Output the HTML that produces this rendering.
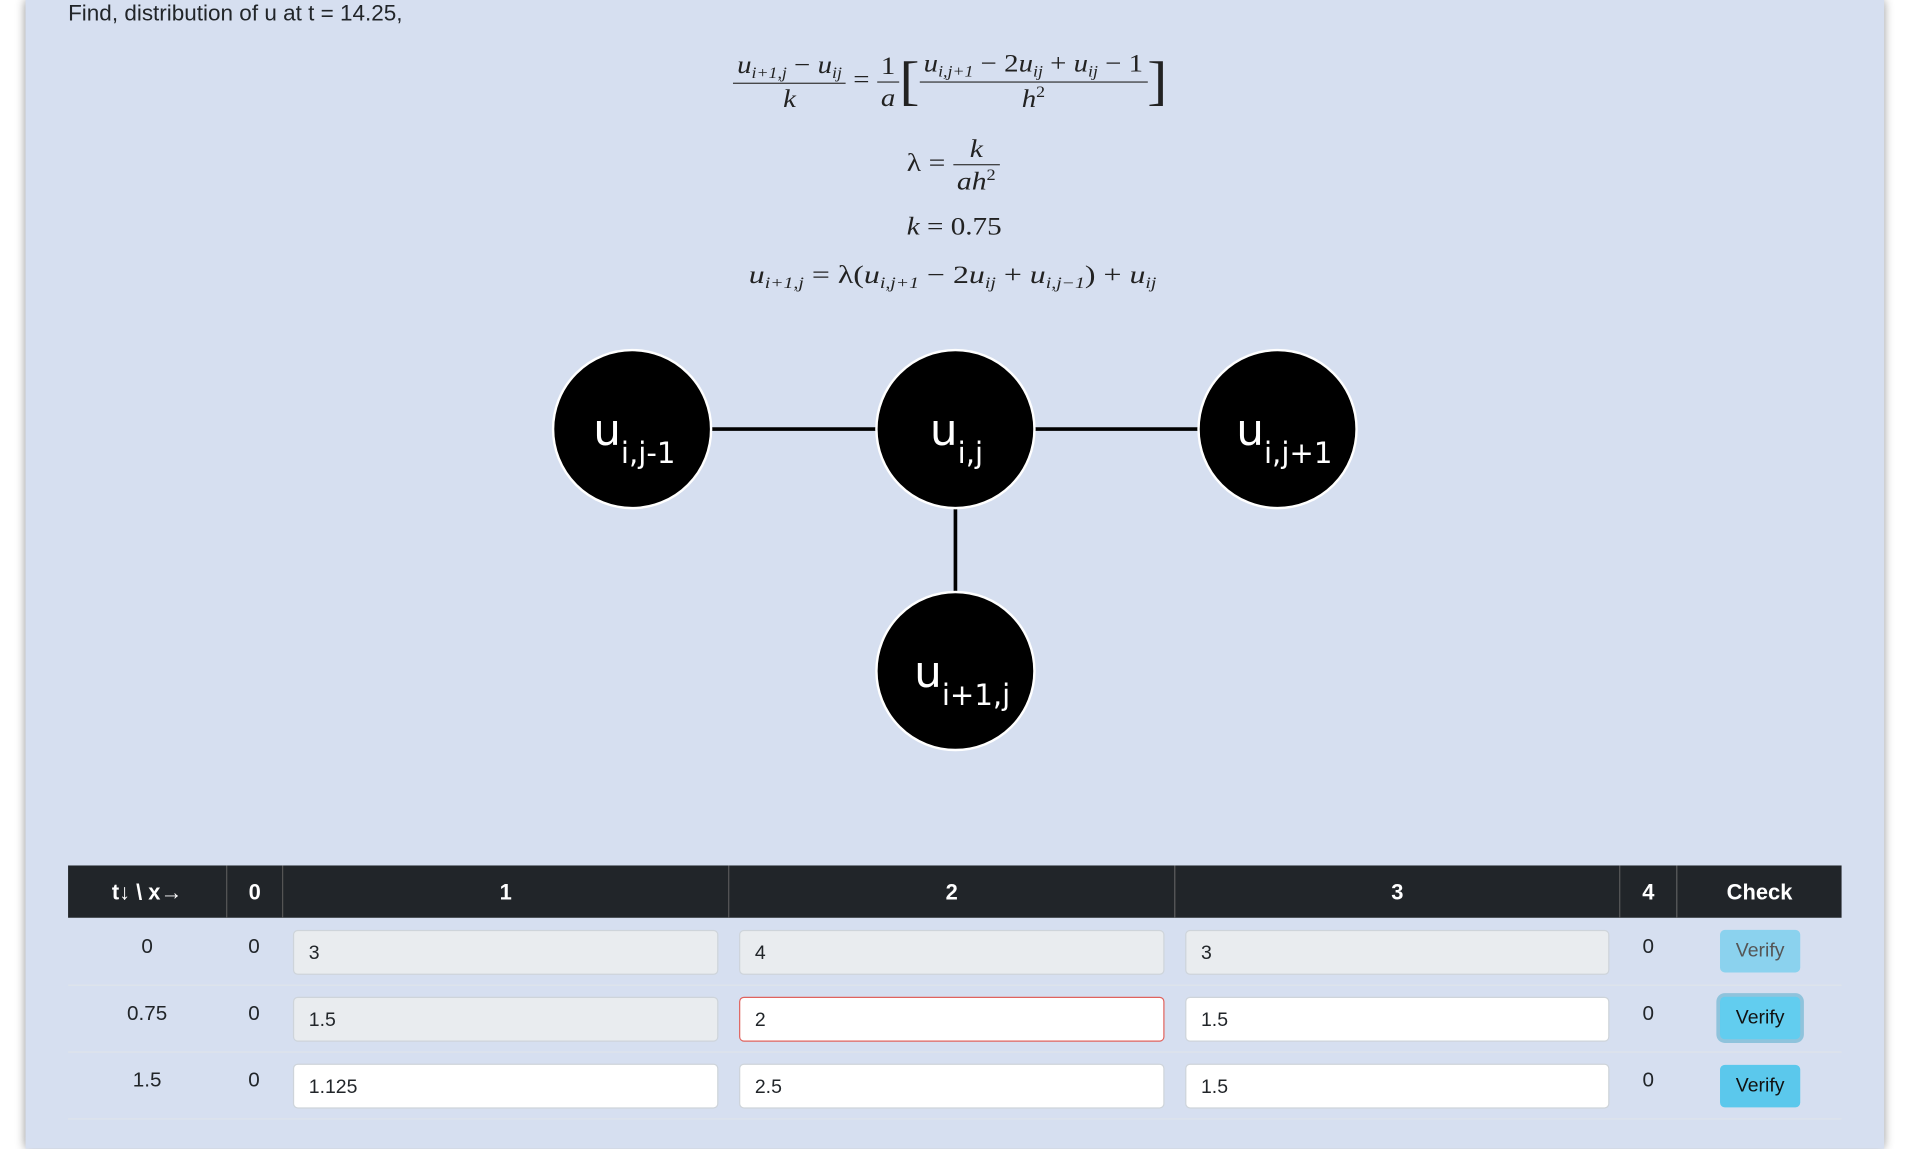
<!DOCTYPE html>
<html><head><meta charset="utf-8"><style>
html,body{margin:0;padding:0;width:1906px;height:1148px;overflow:hidden;background:#fff;}
#s{position:absolute;left:0;top:0;width:1568px;height:945px;transform:scale(1.21556);transform-origin:0 0;font-family:"Liberation Sans",sans-serif;color:#212529;}
.panel{position:absolute;left:21px;top:0;width:1529px;height:945px;background:#d6dff0;box-shadow:0 0 8px rgba(0,0,0,.45);}
.a{position:absolute;}
.m{font-family:"Liberation Serif",serif;font-size:21px;color:#222;white-space:nowrap;transform-origin:0 0;}
.m i{font-style:italic;}
.m sub{font-size:13px;vertical-align:-4px;font-style:italic;}
.m sup{font-size:13px;vertical-align:8px;}
.fr{display:inline-block;vertical-align:middle;text-align:center;}
.fr>span{display:block;padding:0 3px;}
.fr>span.n{border-bottom:1px solid #333;}
.hd{position:absolute;top:712px;height:43px;background:#212529;color:#fff;font-weight:bold;font-size:18px;text-align:center;line-height:45px;border-left:1px solid #555;box-sizing:border-box;}
.c{position:absolute;font-size:17px;text-align:center;width:40px;}
.in{position:absolute;height:37px;box-sizing:border-box;border:1px solid #ced4da;border-radius:4px;background:#fff;font-size:16px;line-height:37px;padding-left:12px;}
.dis{background:#e9ecef;}
.btn{position:absolute;left:1415px;width:66px;height:35px;border-radius:4px;background:#5bc8ec;font-size:16px;text-align:center;line-height:35px;color:#111;}
.sep{position:absolute;left:56px;width:1459px;height:1px;background:#dfe4ea;}
</style></head><body><div id="s">
<div class="panel"></div>
<div class="a" style="left:56px;top:0px;font-size:18.5px;">Find, distribution of u at t = 14.25,</div>

<div class="a m" style="left:603px;top:40px;transform:scaleX(1.13);">
<span class="fr"><span class="n"><i>u</i><sub>i+1,j</sub> − <i>u</i><sub>ij</sub></span><span><i>k</i></span></span>
= <span class="fr"><span class="n">1</span><span><i>a</i></span></span><span style="font-size:44px;vertical-align:middle;font-weight:100;">[</span><span class="fr"><span class="n"><i>u</i><sub>i,j+1</sub> − 2<i>u</i><sub>ij</sub> + <i>u</i><sub>ij</sub> − 1</span><span><i>h</i><sup>2</sup></span></span><span style="font-size:44px;vertical-align:middle;">]</span>
</div>
<div class="a m" style="left:746px;top:110px;transform:scaleX(1.16);">λ = <span class="fr"><span class="n"><i>k</i></span><span><i>ah</i><sup>2</sup></span></span></div>
<div class="a m" style="left:746px;top:174px;transform:scaleX(1.14);"><i>k</i> = 0.75</div>
<div class="a m" style="left:616px;top:214px;transform:scaleX(1.25);"><i>u</i><sub>i+1,j</sub> = λ(<i>u</i><sub>i,j+1</sub> − 2<i>u</i><sub>ij</sub> + <i>u</i><sub>i,j−1</sub>) + <i>u</i><sub>ij</sub></div>

<svg class="a" style="left:0;top:0" width="1568" height="700">
<line x1="520" y1="353" x2="1051" y2="353" stroke="#000" stroke-width="3"/>
<line x1="786" y1="353" x2="786" y2="552" stroke="#000" stroke-width="3"/>
<g fill="#000" stroke="#fff" stroke-width="2">
<circle cx="520" cy="353" r="65"/><circle cx="786" cy="353" r="65"/><circle cx="1051" cy="353" r="65"/><circle cx="786" cy="552" r="65"/>
</g>
<g fill="#fff" font-family="DejaVu Sans, sans-serif">
<text x="488" y="366" font-size="36">u<tspan font-size="24" dy="15">i,j-1</tspan></text>
<text x="765" y="366" font-size="36">u<tspan font-size="24" dy="15">i,j</tspan></text>
<text x="1017" y="366" font-size="36">u<tspan font-size="24" dy="15">i,j+1</tspan></text>
<text x="752" y="565" font-size="36">u<tspan font-size="24" dy="15">i+1,j</tspan></text>
</g>
</svg>

<div class="hd" style="left:56px;width:130px;border-left:none;">t↓ \ x→</div>
<div class="hd" style="left:186px;width:46px;">0</div>
<div class="hd" style="left:232px;width:367px;">1</div>
<div class="hd" style="left:599px;width:367px;">2</div>
<div class="hd" style="left:966px;width:366px;">3</div>
<div class="hd" style="left:1332px;width:47px;">4</div>
<div class="hd" style="left:1379px;width:136px;">Check</div>

<div class="sep" style="top:810px"></div>
<div class="sep" style="top:865px"></div>
<div class="sep" style="top:920px"></div>

<div class="c" style="left:101px;top:769px;">0</div>
<div class="c" style="left:189px;top:769px;">0</div>
<div class="c" style="left:1336px;top:769px;">0</div>
<div class="c" style="left:101px;top:824px;">0.75</div>
<div class="c" style="left:189px;top:824px;">0</div>
<div class="c" style="left:1336px;top:824px;">0</div>
<div class="c" style="left:101px;top:879px;">1.5</div>
<div class="c" style="left:189px;top:879px;">0</div>
<div class="c" style="left:1336px;top:879px;">0</div>

<div class="in dis" style="left:241px;top:765px;width:350px;">3</div>
<div class="in dis" style="left:608px;top:765px;width:350px;">4</div>
<div class="in dis" style="left:975px;top:765px;width:349px;">3</div>
<div class="in dis" style="left:241px;top:820px;width:350px;">1.5</div>
<div class="in" style="left:608px;top:820px;width:350px;border-color:#e0635e;">2</div>
<div class="in" style="left:975px;top:820px;width:349px;">1.5</div>
<div class="in" style="left:241px;top:875px;width:350px;">1.125</div>
<div class="in" style="left:608px;top:875px;width:350px;">2.5</div>
<div class="in" style="left:975px;top:875px;width:349px;">1.5</div>

<div class="btn" style="top:765px;background:#8bd2ee;color:#555;">Verify</div>
<div class="btn" style="top:820px;background:#62cdef;box-shadow:0 0 0 3px #8fc3dc;">Verify</div>
<div class="btn" style="top:876px;">Verify</div>
</div></body></html>
